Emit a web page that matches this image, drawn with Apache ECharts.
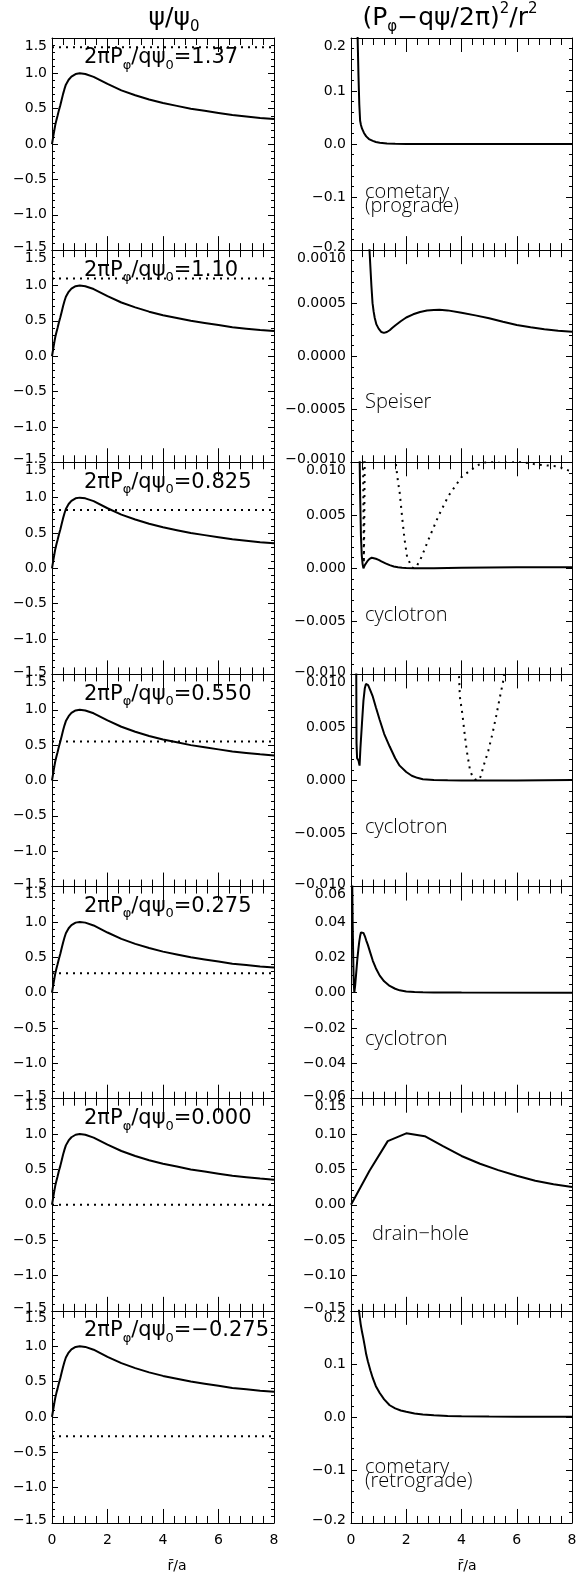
<!DOCTYPE html>
<html><head><meta charset="utf-8">
<script src="https://cdn.jsdelivr.net/npm/echarts@6/dist/echarts.min.js"></script>
<style>html,body{margin:0;padding:0;background:#fff}#c{width:576px;height:1579px}</style>
</head><body><div id="c"></div>
<script>
// ---------- data ----------
const psiR = [0, 0.03, 0.06, 0.09, 0.12, 0.16, 0.2, 0.25, 0.3, 0.35, 0.4, 0.45, 0.5, 0.6, 0.7, 0.85, 1.0, 1.2, 1.5, 2.0, 2.5, 3.0, 3.5, 4.0, 4.5, 5.0, 5.5, 6.0, 6.5, 7.0, 7.5, 8.0];
const psiV = [0, 0.07, 0.14, 0.21, 0.275, 0.34, 0.40, 0.48, 0.55, 0.63, 0.71, 0.78, 0.84, 0.91, 0.955, 0.99, 1.0, 0.99, 0.95, 0.85, 0.76, 0.69, 0.63, 0.58, 0.54, 0.50, 0.47, 0.44, 0.41, 0.39, 0.37, 0.355];

const pValues = [1.37, 1.10, 0.825, 0.550, 0.275, 0.000, -0.275];
const pLabels = ['1.37', '1.10', '0.825', '0.550', '0.275', '0.000', '\u22120.275'];
const orbitNames = [['cometary', '(prograde)'], ['Speiser'], ['cyclotron'], ['cyclotron'], ['cyclotron'], ['drain\u2212hole'], ['cometary', '(retrograde)']];

const vMax = [0.2, 0.001, 0.01, 0.01, 0.06, 0.15, 0.2];
const vStep = [0.1, 0.0005, 0.005, 0.005, 0.02, 0.05, 0.1];
const vDecimals = [1, 4, 3, 3, 2, 2, 1];
const vMinorSplit = [5, 5, 5, 5, 4, 5, 5];

// potential curves (solid)
const v1R = [0.23, 0.24, 0.27, 0.3, 0.33, 0.36, 0.4, 0.47, 0.55, 0.65, 0.79, 0.9, 1.04, 1.3, 1.6, 2.0, 3.0, 4.0, 8.0];
const v1V = [0.26, 0.2, 0.13, 0.075, 0.044, 0.036, 0.029, 0.021, 0.0145, 0.0095, 0.006, 0.004, 0.0026, 0.0012, 0.0006, 0.0003, 0.0001, 0.00005, 0.0];

const v2R = [0.64, 0.67, 0.7, 0.74, 0.78, 0.82, 0.86, 0.92, 1.0, 1.1, 1.19, 1.3, 1.4, 1.5, 1.6, 1.8, 2.0, 2.25, 2.5, 2.75, 3.0, 3.2, 3.5, 4.0, 4.5, 5.0, 5.5, 6.0, 6.5, 7.0, 7.5, 8.0];
const v2V = [0.0012, 0.001, 0.00085, 0.00066, 0.0005, 0.00042, 0.00036, 0.0003, 0.00026, 0.000228, 0.00022, 0.000228, 0.000245, 0.000268, 0.00029, 0.00033, 0.000365, 0.000395, 0.000417, 0.00043, 0.000436, 0.000437, 0.000432, 0.00041, 0.000385, 0.000357, 0.000325, 0.000294, 0.000272, 0.000255, 0.00024, 0.00023];

const v3R = [0.3, 0.31, 0.33, 0.36, 0.39, 0.42, 0.45, 0.5, 0.55, 0.6, 0.67, 0.75, 0.82, 0.9, 1.0, 1.1, 1.25, 1.4, 1.55, 1.7, 1.85, 2.0, 2.3, 3.0, 4.0, 6.0, 8.0];
const v3V = [0.02, 0.011, 0.007, 0.003, 0.0012, 0.0004, 0.0, 0.0003, 0.0005, 0.0007, 0.0009, 0.001, 0.00098, 0.0009, 0.0008, 0.00066, 0.00047, 0.0003, 0.00018, 0.0001, 0.00005, 0.00003, 0.0, 0.00002, 0.00006, 0.0001, 0.0001];
const v3dR = [0.42, 0.44, 0.455, 0.465, 0.48, 0.5, 0.6, 1.5, 1.62, 1.7, 1.76, 1.86, 1.94, 2.03, 2.13, 2.2, 2.3, 2.4, 2.55, 2.85, 3.16, 3.52, 4.0, 4.3, 4.65, 5.0, 5.5, 6.0, 6.3, 6.7, 7.1, 7.5, 7.9, 8.0];
const v3dV = [0.02, 0.009, 0.004, 0.0005, 0.004, 0.012, 0.05, 0.05, 0.0099, 0.0082, 0.0072, 0.0046, 0.0027, 0.0011, 0.0005, 0.0001, 0.0, 0.0003, 0.00105, 0.003, 0.0049, 0.0068, 0.0086, 0.0092, 0.0098, 0.0101, 0.0102, 0.0101, 0.00997, 0.0098, 0.0097, 0.0096, 0.0092, 0.0091];

const v4R = [0.18, 0.19, 0.2, 0.22, 0.27, 0.31, 0.34, 0.4, 0.45, 0.5, 0.54, 0.575, 0.62, 0.7, 0.79, 0.9, 1.04, 1.2, 1.4, 1.6, 1.76, 2.0, 2.2, 2.4, 2.6, 3.0, 3.5, 4.0, 4.6, 6.0, 8.0];
const v4V = [0.015, 0.0105, 0.0035, 0.0021, 0.0019, 0.0014, 0.003, 0.0055, 0.0075, 0.0087, 0.0091, 0.0092, 0.009, 0.0085, 0.0079, 0.0069, 0.0057, 0.0044, 0.0032, 0.0021, 0.0014, 0.0008, 0.00045, 0.00025, 0.00012, 0.00004, 0.000015, 0.000005, 0.0, 0.00001, 0.00004];
const v4dR = [3.9, 3.94, 4.03, 4.1, 4.19, 4.31, 4.41, 4.5, 4.61, 4.7, 4.79, 4.97, 5.12, 5.25, 5.37, 5.52, 5.56];
const v4dV = [0.0105, 0.0079, 0.0063, 0.0047, 0.0028, 0.00095, 0.0003, 0.0001, 0.0, 0.0004, 0.0013, 0.0028, 0.0044, 0.006, 0.0076, 0.0095, 0.0105];

const v5R = [0.04, 0.06, 0.08, 0.1, 0.12, 0.15, 0.19, 0.23, 0.27, 0.3, 0.33, 0.36, 0.4, 0.45, 0.5, 0.55, 0.61, 0.7, 0.79, 0.9, 1.04, 1.2, 1.4, 1.6, 1.76, 2.0, 2.3, 2.6, 3.0, 4.0, 8.0];
const v5V = [0.07, 0.04, 0.02, 0.005, 0.0, 0.004, 0.0115, 0.019, 0.025, 0.029, 0.032, 0.034, 0.0346, 0.0338, 0.032, 0.0296, 0.027, 0.0225, 0.018, 0.0138, 0.0096, 0.0064, 0.0038, 0.0022, 0.0013, 0.0007, 0.0004, 0.0002, 0.0001, 0.00003, 0.0];

const v6R = [0, 0.67, 1.33, 2.0, 2.67, 3.33, 4.0, 4.67, 5.33, 6.0, 6.67, 7.33, 8.0];
const v6V = [0, 0.048, 0.090, 0.101, 0.097, 0.083, 0.069, 0.058, 0.049, 0.041, 0.034, 0.029, 0.025];

const v7R = [0.25, 0.27, 0.3, 0.35, 0.4, 0.44, 0.5, 0.55, 0.61, 0.7, 0.79, 0.9, 1.04, 1.2, 1.4, 1.6, 1.8, 2.0, 2.3, 2.6, 3.0, 3.5, 4.0, 5.0, 6.0, 8.0];
const v7V = [0.24, 0.21, 0.195, 0.175, 0.16, 0.15, 0.133, 0.118, 0.105, 0.088, 0.073, 0.058, 0.045, 0.033, 0.022, 0.016, 0.012, 0.0096, 0.0065, 0.0045, 0.003, 0.0018, 0.0012, 0.0006, 0.0003, 0.0001];

const solidR = [v1R, v2R, v3R, v4R, v5R, v6R, v7R];
const solidV = [v1V, v2V, v3V, v4V, v5V, v6V, v7V];
const dottedR = [null, null, v3dR, v4dR, null, null, null];
const dottedV = [null, null, v3dV, v4dV, null, null, null];

// ---------- layout ----------
const N = 7, TOP = 38, PH = 212.14;
const LX = 52, LW = 222, RX = 351, RW = 221;
const FONT = 'DejaVu Sans';
const pair = (rs, vs) => rs.map((r, i) => [r, vs[i]]);

const grids = [], xAxes = [], yAxes = [], series = [], graphics = [];

function yFormatter(dec, yMin, yMax) {
  const eps = Math.abs(yMax) * 1e-6;
  return v => {
    const s = (v < -eps ? '\u2212' : '') + Math.abs(v).toFixed(dec);
    if (Math.abs(v - yMax) < eps) return '{e|}\n{n|' + s + '}';
    if (Math.abs(v - yMin) < eps) return '{n|' + s + '}\n{f|}';
    return '{n|' + s + '}';
  };
}

function addPanel(gx, gw, row, yMin, yMax, yInt, dec, ySplit) {
  const gi = grids.length;
  grids.push({ left: gx, top: TOP + row * PH, width: gw, height: PH, show: false, containLabel: false, outerBoundsMode: 'none' });
  const last = row === N - 1;
  const xc = {
    type: 'value', gridIndex: gi, min: 0, max: 8, interval: 2,
    splitLine: { show: false }, minorSplitLine: { show: false },
    axisLine: { show: true, onZero: false, lineStyle: { color: '#000', width: 1 } },
    axisTick: { show: true, inside: true, length: 14, lineStyle: { color: '#000', width: 1 } },
    minorTick: { show: true, splitNumber: 5, length: 7, lineStyle: { color: '#000', width: 1 } }
  };
  xAxes.push(Object.assign({}, xc, { position: 'bottom', axisLabel: { show: last, color: '#000', fontFamily: FONT, fontSize: 14, margin: 10 } }));
  xAxes.push(Object.assign({}, xc, { position: 'top', axisLabel: { show: false } }));
  const yc = {
    type: 'value', gridIndex: gi, min: yMin, max: yMax, interval: yInt,
    splitLine: { show: false }, minorSplitLine: { show: false },
    axisLine: { show: true, onZero: false, lineStyle: { color: '#000', width: 1 } },
    axisTick: { show: true, inside: true, length: 6, lineStyle: { color: '#000', width: 1 } },
    minorTick: { show: true, splitNumber: ySplit, length: 3, lineStyle: { color: '#000', width: 1 } }
  };
  yAxes.push(Object.assign({}, yc, {
    position: 'left',
    axisLabel: {
      show: true, color: '#000', fontFamily: FONT, fontSize: 14, margin: 5,
      showMinLabel: true, showMaxLabel: true, hideOverlap: false,
      formatter: yFormatter(dec, yMin, yMax),
      rich: {
        n: { color: '#000', fontFamily: FONT, fontSize: 14, lineHeight: 16 },
        e: { fontSize: 1, lineHeight: 16 },
        f: { fontSize: 1, lineHeight: 5 }
      }
    }
  }));
  yAxes.push(Object.assign({}, yc, { position: 'right', axisLabel: { show: false } }));
  return { x: gi * 2, y: gi * 2 };
}

function addLine(ax, data, dotted) {
  series.push({
    type: 'line', xAxisIndex: ax.x, yAxisIndex: ax.y, data: data,
    showSymbol: false, symbol: 'none', smooth: false, silent: true, clip: true, animation: false,
    lineStyle: dotted ? { color: '#000', width: 2, type: [2, 5] } : { color: '#000', width: 2 }
  });
}

const richBig = {
  m: { fontSize: 21, lineHeight: 28, fontFamily: FONT, fill: '#000' },
  s: { fontSize: 13, lineHeight: 13, fontFamily: FONT, verticalAlign: 'bottom', fill: '#000' },
  p: { fontSize: 13, lineHeight: 13, fontFamily: FONT, verticalAlign: 'top', fill: '#000' }
};
const richTitle = {
  m: { fontSize: 25, lineHeight: 33, fontFamily: FONT, fill: '#000' },
  s: { fontSize: 15, lineHeight: 15, fontFamily: FONT, verticalAlign: 'bottom', fill: '#000' },
  p: { fontSize: 15, lineHeight: 15, fontFamily: FONT, verticalAlign: 'top', fill: '#000' }
};

function addText(x, y, text, opts) {
  graphics.push({
    type: 'text', x: x, y: y, silent: true,
    style: Object.assign({ text: text, fill: '#000', align: opts.align || 'left', textAlign: opts.align || 'left', verticalAlign: 'middle', textVerticalAlign: 'middle' }, opts.style)
  });
}

for (let i = 0; i < N; i++) {
  // left column
  const a = addPanel(LX, LW, i, -1.5, 1.5, 0.5, 1, 5);
  addLine(a, pair(psiR, psiV), false);
  addLine(a, [[0, pValues[i]], [8, pValues[i]]], true);
  addText(84, TOP + i * PH + 20, '{m|2\u03c0P}{s|\u03c6}{m|/q\u03c8}{s|0}{m|=' + pLabels[i] + '}', { style: { rich: richBig } });
  // right column
  const b = addPanel(RX, RW, i, -vMax[i], vMax[i], vStep[i], vDecimals[i], vMinorSplit[i]);
  addLine(b, pair(solidR[i], solidV[i]), false);
  if (dottedR[i]) addLine(b, pair(dottedR[i], dottedV[i]), true);
}

// orbit names in right panels
const nameY = [154, 152, 153, 153, 153, 136, 156];
const nameX = [365, 365, 365, 365, 365, 372, 365];
for (let i = 0; i < N; i++) {
  orbitNames[i].forEach((t, k) => {
    addText(nameX[i], TOP + i * PH + nameY[i] + k * 14, t, { style: { font: '300 20px "Open Sans"', fontFamily: 'Open Sans', fontSize: 20, fontWeight: 300 } });
  });
}

// column titles
addText(174, 18, '{m|\u03c8/\u03c8}{s|0}', { align: 'center', style: { rich: richTitle } });
addText(450, 18, '{m|(P}{s|\u03c6}{m|\u2212q\u03c8/2\u03c0)}{p|2}{m|/r}{p|2}', { align: 'center', style: { rich: richTitle } });
// x-axis titles
addText(177, 1566, 'r\u0304/a', { align: 'center', style: { font: '14px "DejaVu Sans"', fontFamily: FONT, fontSize: 14 } });
addText(467, 1566, 'r\u0304/a', { align: 'center', style: { font: '14px "DejaVu Sans"', fontFamily: FONT, fontSize: 14 } });

const chart = echarts.init(document.getElementById('c'), null, { renderer: 'canvas' });
chart.setOption({
  backgroundColor: '#fff',
  animation: false,
  grid: grids,
  xAxis: xAxes,
  yAxis: yAxes,
  series: series,
  graphic: graphics
});
</script>
</body></html>
